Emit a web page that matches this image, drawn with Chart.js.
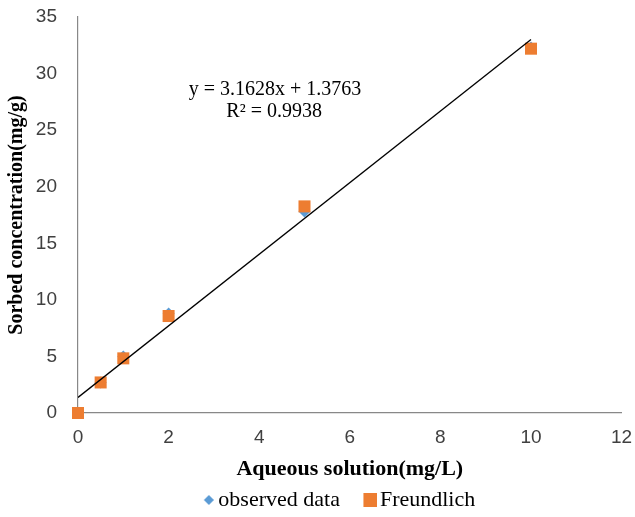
<!DOCTYPE html>
<html>
<head>
<meta charset="utf-8">
<script src="https://cdn.jsdelivr.net/npm/chart.js@4.4.1/dist/chart.umd.min.js"></script>
<style>
  html, body { margin: 0; padding: 0; background: #fff; }
  #wrap { width: 635px; height: 517px; }
</style>
</head>
<body>
<div id="wrap"><canvas id="grafico" width="635" height="517"></canvas></div>
<script>
// datos
const xValores = [0, 0.5, 1, 2, 5, 10];
const observados = [0, 2.7, 5.0, 8.8, 17.8, 32.3];
const freundlich = [0, 2.7, 4.83, 8.57, 18.26, 32.2];
const tendenciaX = [0, 10];
const tendenciaY = [1.3763, 33.0043];
const textoEcuacion = ["y = 3.1628x + 1.3763", "R² = 0.9938"];

const azul = "#5b9bd5";
const naranja = "#ed7d31";

const puntos = (xs, ys) => xs.map((x, i) => ({ x: x, y: ys[i] }));

// iconos para la leyenda, con margen transparente a la izquierda
// para que queden pegados al texto
function crearIcono(ancho, alto, dibujar) {
    const c = document.createElement("canvas");
    c.width = ancho;
    c.height = alto;
    dibujar(c.getContext("2d"));
    return c;
}
const iconoRombo = crearIcono(15, 10, (g) => {
    g.fillStyle = azul;
    g.beginPath();
    g.moveTo(10, 0);
    g.lineTo(15, 5);
    g.lineTo(10, 10);
    g.lineTo(5, 5);
    g.closePath();
    g.fill();
});
const iconoCuadrado = crearIcono(19, 14, (g) => {
    g.fillStyle = naranja;
    g.fillRect(5, 0, 14, 14);
});

// texto de la ecuacion, ubicado en coordenadas de datos
const ecuacionPlugin = {
    id: "ecuacion",
    afterDatasetsDraw(chart) {
        const ctx = chart.ctx;
        const sx = chart.scales.x, sy = chart.scales.y;
        ctx.save();
        ctx.fillStyle = "#000";
        ctx.font = "20px 'Liberation Serif'";
        ctx.textAlign = "center";
        ctx.textBaseline = "middle";
        ctx.fillText(textoEcuacion[0], sx.getPixelForValue(4.35), sy.getPixelForValue(28.6));
        ctx.fillText(textoEcuacion[1], sx.getPixelForValue(4.33), sy.getPixelForValue(26.6));
        ctx.restore();
    }
};

// corre la leyenda un poco a la izquierda, como en el original
const leyendaPlugin = {
    id: "leyendaIzq",
    afterLayout(chart) {
        if (chart.legend) chart.legend.left -= 19;
    }
};

new Chart(document.getElementById("grafico"), {
    type: "scatter",
    data: {
        datasets: [
            {
                label: "observed data",
                data: puntos(xValores, observados),
                pointStyle: "rectRot",
                pointRadius: 6,
                backgroundColor: azul,
                borderColor: azul,
                borderWidth: 0,
                clip: false,
                order: 2
            },
            {
                label: "Freundlich",
                data: puntos(xValores, freundlich),
                pointStyle: "rect",
                pointRadius: 8.5,
                backgroundColor: naranja,
                borderColor: naranja,
                borderWidth: 0,
                clip: false,
                order: 1
            },
            {
                label: "trend",
                type: "line",
                data: puntos(tendenciaX, tendenciaY),
                borderColor: "#000",
                borderWidth: 1.3,
                pointRadius: 0,
                fill: false,
                order: 0
            }
        ]
    },
    plugins: [ecuacionPlugin, leyendaPlugin],
    options: {
        responsive: false,
        animation: false,
        layout: { autoPadding: false, padding: { left: 0, right: 0, top: 0, bottom: -4 } },
        plugins: {
            tooltip: { enabled: false },
            legend: {
                position: "bottom",
                fullSize: false,
                labels: {
                    usePointStyle: true,
                    pointStyleWidth: 2,
                    boxHeight: 10,
                    color: "#000",
                    font: { family: "'Liberation Serif'", size: 22 },
                    padding: 27,
                    sort: (a, b) => a.datasetIndex - b.datasetIndex,
                    filter: (item) => item.text !== "trend",
                    generateLabels: (chart) => {
                        const items = Chart.defaults.plugins.legend.labels.generateLabels(chart);
                        items.forEach((it) => {
                            it.pointStyle = it.datasetIndex === 0 ? iconoRombo : iconoCuadrado;
                        });
                        return items;
                    }
                }
            }
        },
        scales: {
            x: {
                type: "linear",
                min: 0,
                max: 12,
                ticks: { stepSize: 2, color: "#404040", font: { family: "'Liberation Sans'", size: 19 }, padding: 13, maxRotation: 0 },
                grid: { display: false, drawTicks: false },
                border: { color: "#888", width: 1.2 },
                title: {
                    display: true,
                    text: "Aqueous solution(mg/L)",
                    color: "#000",
                    font: { family: "'Liberation Serif'", size: 22, weight: "bold" },
                    padding: { top: 0, bottom: -21 }
                },
                afterFit: (scale) => {
                    scale.height = 49;
                    scale.paddingLeft = 0;
                    scale.paddingRight = 13.4;
                }
            },
            y: {
                min: 0,
                max: 35,
                ticks: { stepSize: 5, color: "#404040", font: { family: "'Liberation Sans'", size: 19 }, padding: 21 },
                grid: { display: false, drawTicks: false },
                border: { color: "#888", width: 1.2 },
                title: {
                    display: true,
                    text: "Sorbed concentration(mg/g)",
                    color: "#000",
                    font: { family: "'Liberation Serif'", size: 20, weight: "bold" },
                    padding: { top: 5, bottom: 2 }
                },
                afterFit: (scale) => {
                    scale.width = 78;
                    scale.paddingTop = 17;
                    scale.paddingBottom = 0;
                }
            }
        }
    }
});
</script>
</body>
</html>
